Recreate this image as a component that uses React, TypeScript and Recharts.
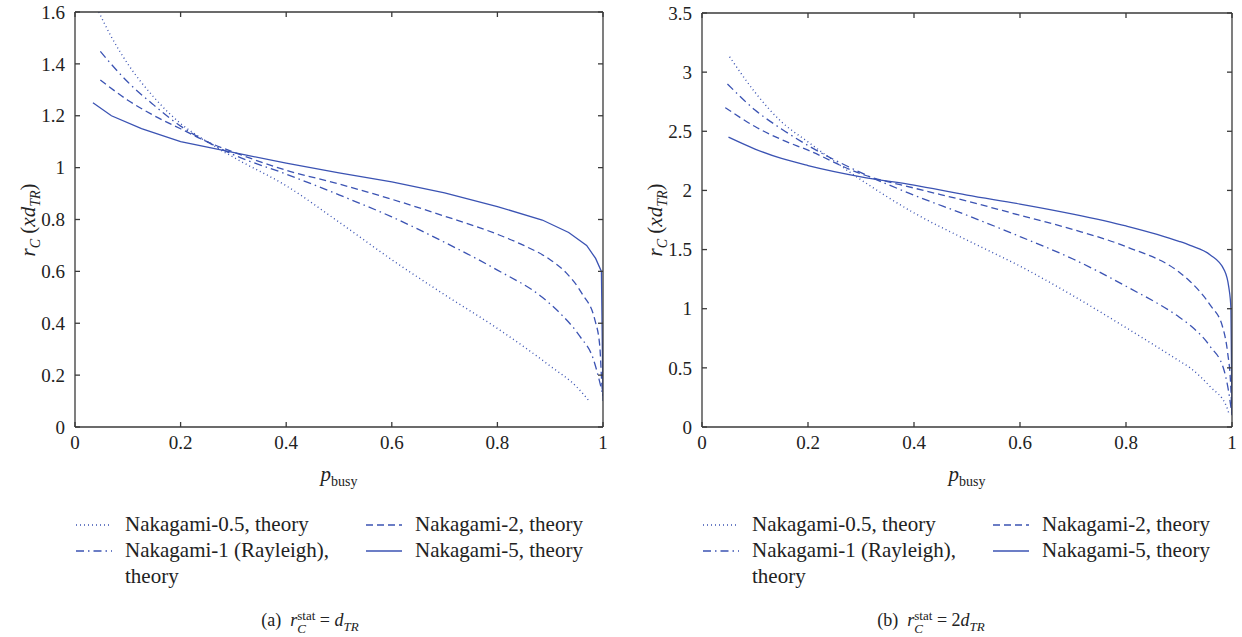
import React from 'react';
import { LineChart, Line, XAxis, YAxis } from 'recharts';

// shared axis ticks
const xTicks = [0, 0.2, 0.4, 0.6, 0.8, 1];
const yTicksA = [0, 0.2, 0.4, 0.6, 0.8, 1, 1.2, 1.4, 1.6];
const yTicksB = [0, 0.5, 1, 1.5, 2, 2.5, 3, 3.5];

const seriesNames = [
  'Nakagami-0.5, theory',
  'Nakagami-1 (Rayleigh), theory',
  'Nakagami-2, theory',
  'Nakagami-5, theory',
];

// (a) r_C^stat = d_TR
const a05P = [0.045, 0.07, 0.1, 0.15, 0.2, 0.25, 0.3, 0.4, 0.5, 0.6, 0.7, 0.8, 0.9, 0.95, 0.975];
const a05R = [1.6, 1.5, 1.4, 1.27, 1.17, 1.1, 1.04, 0.93, 0.79, 0.645, 0.51, 0.38, 0.235, 0.155, 0.097];
const a1P = [0.048, 0.1, 0.15, 0.2, 0.25, 0.3, 0.4, 0.5, 0.6, 0.7, 0.8, 0.885, 0.918, 0.956, 0.982, 0.993, 1.0];
const a1R = [1.448, 1.33, 1.24, 1.16, 1.1, 1.05, 0.975, 0.895, 0.81, 0.712, 0.605, 0.5, 0.44, 0.35, 0.26, 0.18, 0.12];
const a2P = [0.048, 0.1, 0.15, 0.2, 0.25, 0.3, 0.4, 0.5, 0.6, 0.7, 0.8, 0.85, 0.9, 0.93, 0.96, 0.985, 0.994, 0.998, 1.0];
const a2R = [1.338, 1.26, 1.2, 1.15, 1.1, 1.06, 0.99, 0.937, 0.878, 0.813, 0.743, 0.7, 0.645, 0.595, 0.515, 0.41, 0.31, 0.16, 0.12];
const a5P = [0.034, 0.069, 0.126, 0.2, 0.32, 0.4, 0.5, 0.6, 0.7, 0.8, 0.885, 0.935, 0.969, 0.986, 0.997, 1.0];
const a5R = [1.25, 1.2, 1.15, 1.1, 1.05, 1.017, 0.98, 0.945, 0.903, 0.85, 0.798, 0.75, 0.7, 0.65, 0.6, 0.1];

// (b) r_C^stat = 2 d_TR
const b05P = [0.052, 0.1, 0.15, 0.2, 0.3, 0.4, 0.5, 0.6, 0.7, 0.8, 0.9, 0.921, 0.959, 0.99, 0.995];
const b05R = [3.13, 2.83, 2.58, 2.41, 2.09, 1.81, 1.58, 1.36, 1.11, 0.84, 0.56, 0.5, 0.34, 0.17, 0.1];
const b1P = [0.048, 0.1, 0.15, 0.2, 0.3, 0.4, 0.5, 0.6, 0.7, 0.8, 0.9, 0.921, 0.959, 0.985, 0.994, 1.0];
const b1R = [2.9, 2.68, 2.52, 2.38, 2.15, 1.96, 1.79, 1.61, 1.42, 1.19, 0.93, 0.86, 0.68, 0.48, 0.29, 0.1];
const b2P = [0.044, 0.1, 0.15, 0.2, 0.3, 0.4, 0.5, 0.6, 0.7, 0.8, 0.9, 0.921, 0.959, 0.982, 0.992, 0.997, 1.0];
const b2R = [2.7, 2.54, 2.43, 2.34, 2.14, 2.02, 1.91, 1.79, 1.67, 1.525, 1.31, 1.23, 1.03, 0.85, 0.62, 0.4, 0.1];
const b5P = [0.05, 0.1, 0.15, 0.2, 0.3, 0.4, 0.5, 0.6, 0.7, 0.8, 0.9, 0.921, 0.959, 0.985, 0.994, 0.998, 1.0];
const b5R = [2.45, 2.35, 2.27, 2.21, 2.115, 2.045, 1.96, 1.885, 1.8, 1.7, 1.57, 1.535, 1.455, 1.33, 1.18, 1.0, 0.1];

const BLUE = '#3b53b3';
const AXIS = '#3a3a3a';
const FONT = '"Liberation Serif", "Times New Roman", serif';

const dashes = ['1 3', '8 4 1.5 4', '7 4', undefined];

const zip = (p: number[], r: number[]) => p.map((v, i) => ({ p: v, r: r[i] }));

const seriesA = [zip(a05P, a05R), zip(a1P, a1R), zip(a2P, a2R), zip(a5P, a5R)];
const seriesB = [zip(b05P, b05R), zip(b1P, b1R), zip(b2P, b2R), zip(b5P, b5R)];

const tickStyle = { fill: '#222', fontSize: 19, fontFamily: FONT };
const blank = () => '';

function LegendSample({ dash }: { dash?: string }) {
  return (
    <svg width={38} height={10} style={{ display: 'block' }}>
      <line x1={1} y1={5} x2={37} y2={5} stroke={BLUE} strokeWidth={1.3} strokeDasharray={dash} />
    </svg>
  );
}

function Panel(props: {
  left: number;
  width: number;
  yAxisWidth: number;
  plotLeft: number;
  plotRight: number;
  top: number;
  yTicks: number[];
  series: { p: number; r: number }[][];
  linearSolid: boolean;
  caption: React.ReactNode;
}) {
  const { left, width, yAxisWidth, plotLeft, plotRight, top, yTicks, series, linearSolid, caption } = props;
  const plotBottom = 427;
  const yMax = yTicks[yTicks.length - 1];
  const plotMid = (plotLeft + plotRight) / 2 - left;
  return (
    <div style={{ position: 'absolute', left, top: 0, width, height: 637 }}>
      <LineChart
        width={width}
        height={637}
        margin={{ top, right: width - (plotRight - left), left: 0, bottom: 637 - plotBottom - 30 }}
      >
        <XAxis
          xAxisId="x"
          dataKey="p"
          type="number"
          domain={[0, 1]}
          ticks={xTicks}
          allowDataOverflow
          height={30}
          stroke={AXIS}
          strokeWidth={1.3}
          tickSize={-5}
          tickMargin={14}
          tick={tickStyle}
        />
        <XAxis
          xAxisId="top"
          orientation="top"
          mirror
          dataKey="p"
          type="number"
          domain={[0, 1]}
          ticks={xTicks}
          allowDataOverflow
          stroke={AXIS}
          strokeWidth={1.3}
          tickSize={5}
          tickFormatter={blank}
        />
        <YAxis
          yAxisId="y"
          type="number"
          domain={[0, yMax]}
          ticks={yTicks}
          allowDataOverflow
          width={yAxisWidth}
          stroke={AXIS}
          strokeWidth={1.3}
          tickSize={-5}
          tickMargin={15}
          tick={tickStyle}
        />
        <YAxis
          yAxisId="right"
          orientation="right"
          mirror
          type="number"
          domain={[0, yMax]}
          ticks={yTicks}
          allowDataOverflow
          stroke={AXIS}
          strokeWidth={1.3}
          tickSize={5}
          tickFormatter={blank}
        />
        {series.map((d, i) => (
          <Line
            key={seriesNames[i]}
            data={d}
            dataKey="r"
            xAxisId="x"
            yAxisId="y"
            type={linearSolid && i === 3 ? 'linear' : 'monotone'}
            stroke={BLUE}
            strokeWidth={i === 0 ? 1.4 : 1.3}
            strokeDasharray={dashes[i]}
            dot={false}
            activeDot={false}
            isAnimationActive={false}
          />
        ))}
      </LineChart>

      {/* y axis title */}
      <div
        style={{
          position: 'absolute',
          left: plotLeft - left - 45,
          top: 220,
          transform: 'translate(-50%, -50%) rotate(-90deg)',
          whiteSpace: 'nowrap',
          fontSize: 21,
        }}
      >
        <i>r</i>
        <sub style={{ fontSize: 14, fontStyle: 'italic' }}>C</sub> (<i>xd</i>
        <sub style={{ fontSize: 14, fontStyle: 'italic' }}>TR</sub>)
      </div>

      {/* x axis title */}
      <div
        style={{
          position: 'absolute',
          left: plotMid,
          top: 476,
          transform: 'translate(-50%, -50%)',
          whiteSpace: 'nowrap',
          fontSize: 21,
        }}
      >
        <i>p</i>
        <sub style={{ fontSize: 14 }}>busy</sub>
      </div>

      {/* legend */}
      {seriesNames.map((name, i) => {
        const col = i < 2 ? 0 : 1;
        const row = i % 2;
        return (
          <div
            key={name}
            style={{
              position: 'absolute',
              left: plotLeft - left + col * 290,
              top: 511 + row * 26,
              display: 'flex',
              alignItems: 'flex-start',
              fontSize: 21,
              lineHeight: '26px',
            }}
          >
            <div style={{ marginTop: 9, width: 50 }}>
              <LegendSample dash={dashes[i]} />
            </div>
            <div style={{ width: col === 0 ? 215 : 200 }}>{name}</div>
          </div>
        );
      })}

      {/* caption */}
      <div
        style={{
          position: 'absolute',
          left: width / 2,
          top: 622,
          transform: 'translate(-50%, -50%)',
          whiteSpace: 'nowrap',
          fontSize: 18,
        }}
      >
        {caption}
      </div>
    </div>
  );
}

function RStat() {
  return (
    <>
      <i>r</i>
      <span style={{ display: 'inline-flex', flexDirection: 'column', verticalAlign: 'middle', lineHeight: '13px', fontSize: 13 }}>
        <span>stat</span>
        <i>C</i>
      </span>
    </>
  );
}

export default function App() {
  return (
    <div
      style={{
        position: 'absolute',
        left: 0,
        top: 0,
        width: 1242,
        height: 637,
        background: '#fff',
        color: '#222',
        fontFamily: FONT,
        overflow: 'hidden',
      }}
    >
      <Panel
        left={0}
        width={620}
        yAxisWidth={75}
        plotLeft={75}
        plotRight={603}
        top={12}
        yTicks={yTicksA}
        series={seriesA}
        linearSolid
        caption={
          <>
            (a)&nbsp;&nbsp;<RStat /> = <i>d</i>
            <sub style={{ fontSize: 13, fontStyle: 'italic' }}>TR</sub>
          </>
        }
      />
      <Panel
        left={620}
        width={622}
        yAxisWidth={82}
        plotLeft={702}
        plotRight={1232}
        top={13}
        yTicks={yTicksB}
        series={seriesB}
        linearSolid={false}
        caption={
          <>
            (b)&nbsp;&nbsp;<RStat /> = 2<i>d</i>
            <sub style={{ fontSize: 13, fontStyle: 'italic' }}>TR</sub>
          </>
        }
      />
    </div>
  );
}
